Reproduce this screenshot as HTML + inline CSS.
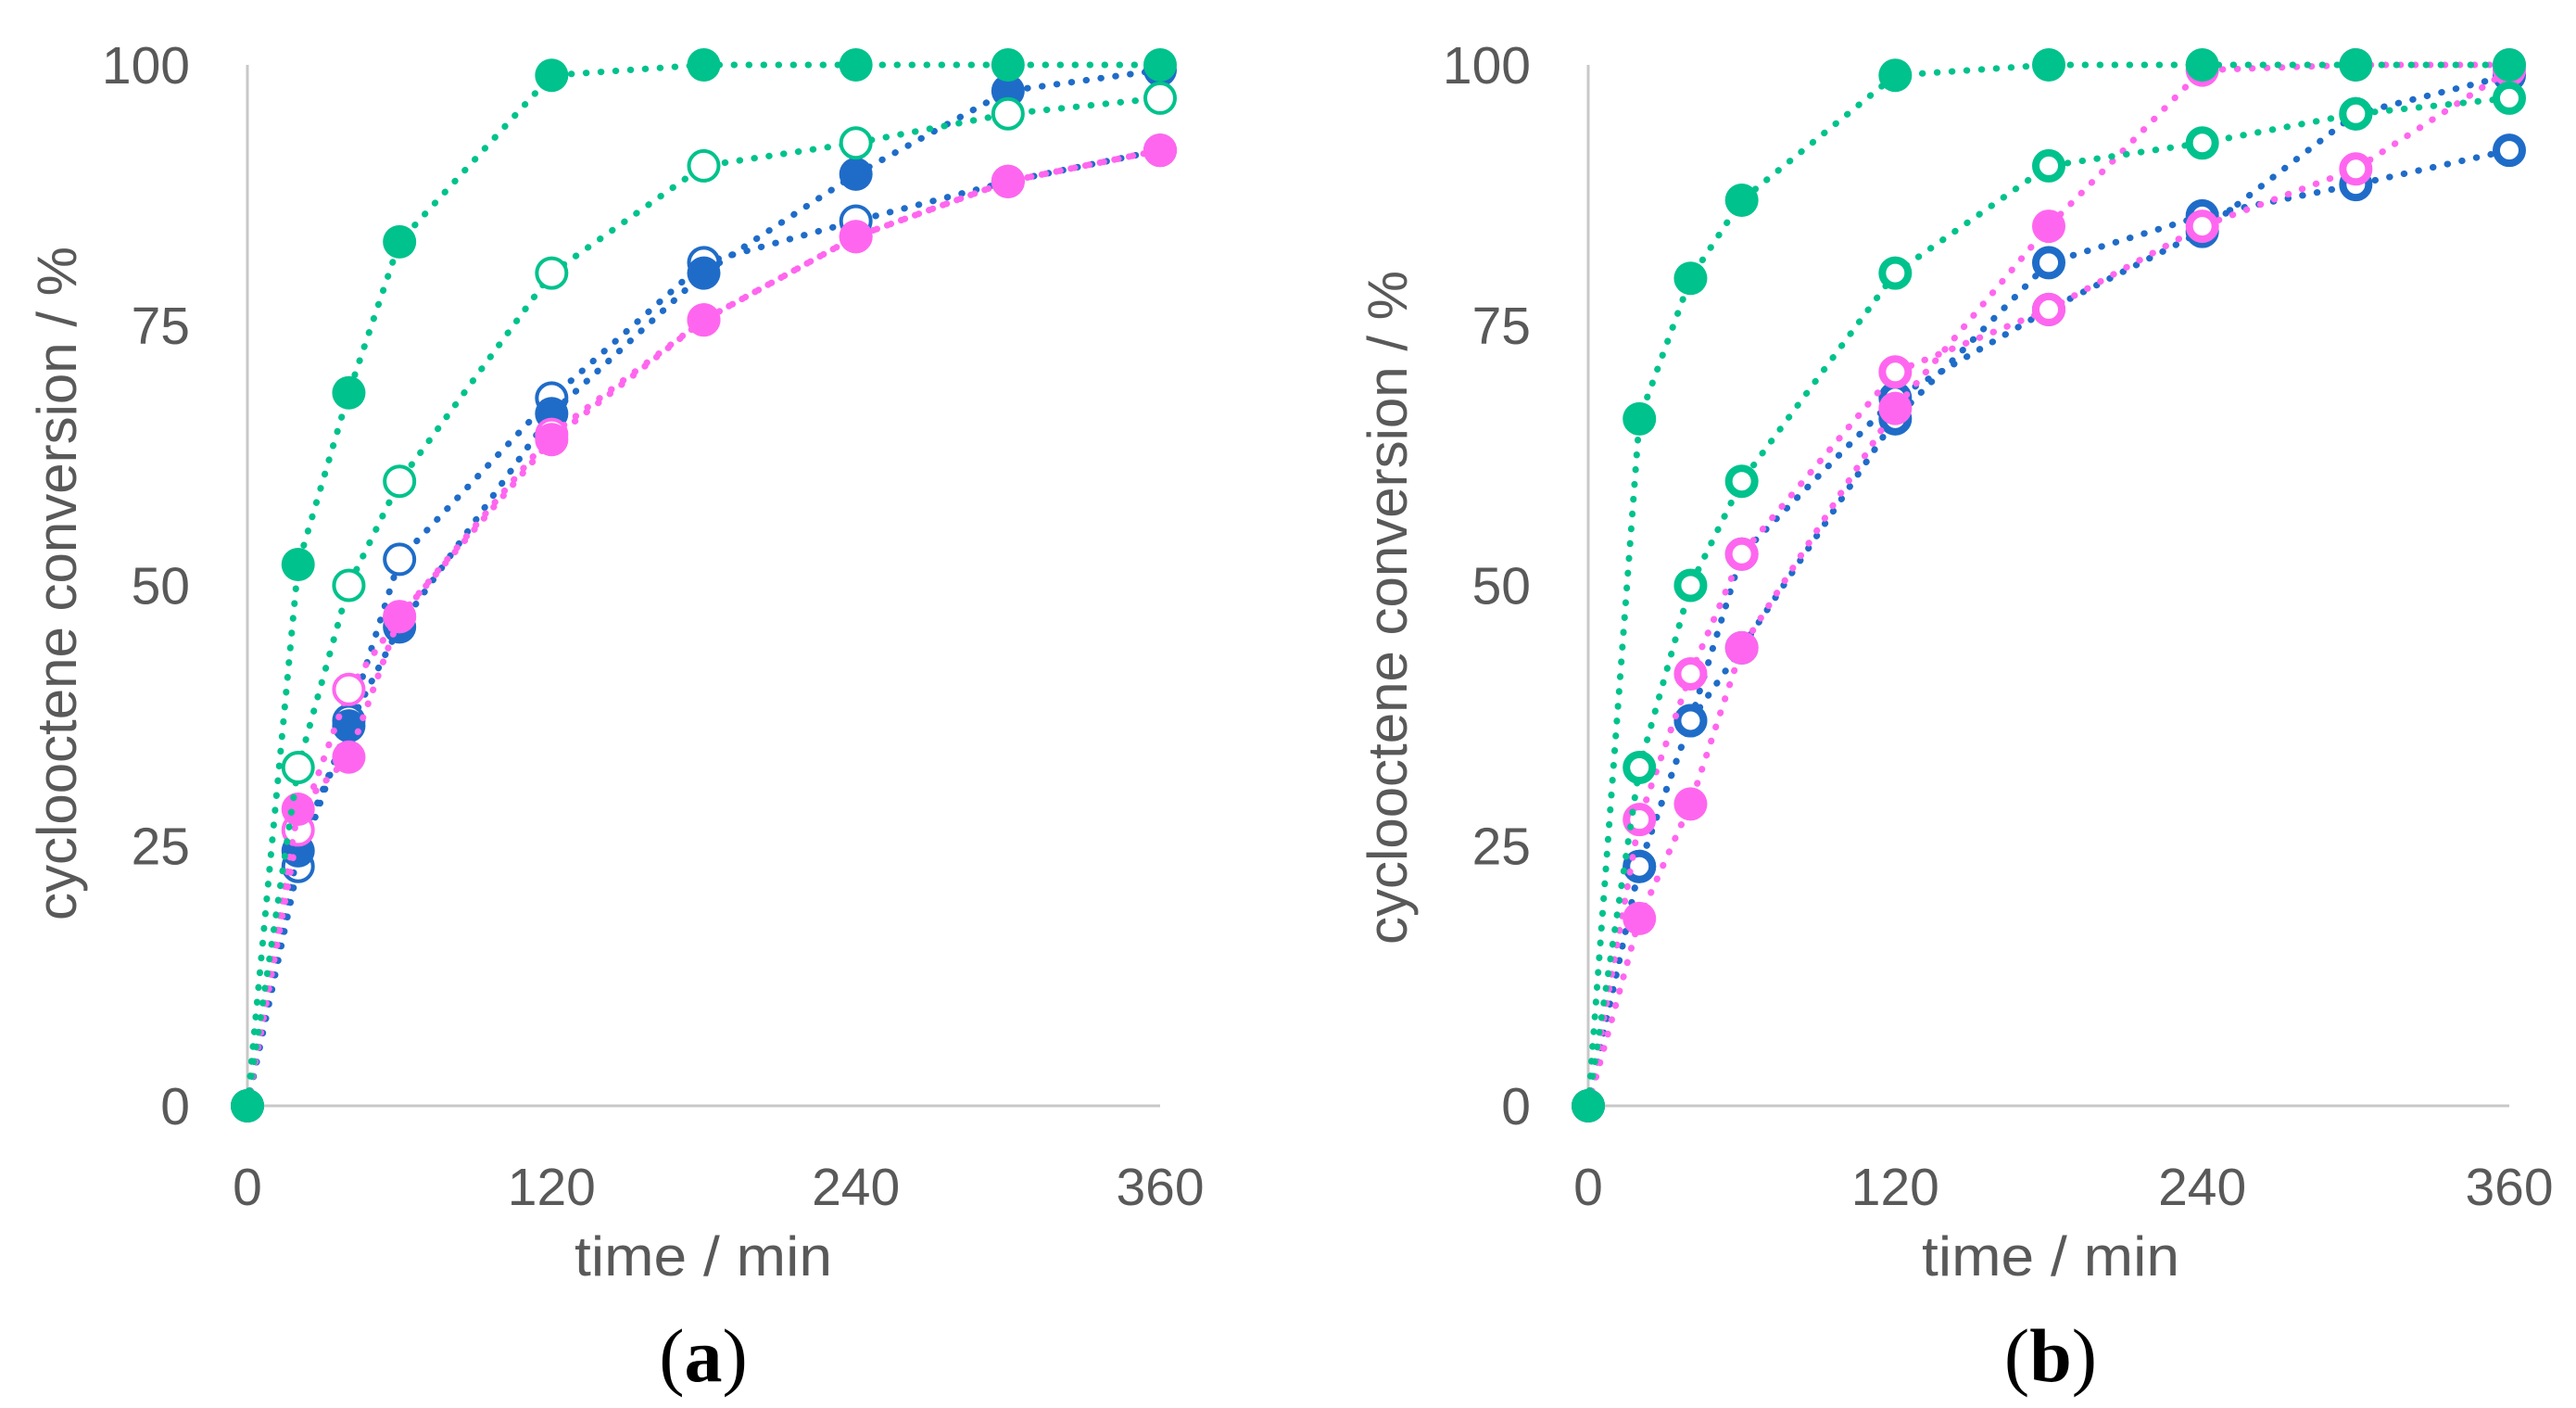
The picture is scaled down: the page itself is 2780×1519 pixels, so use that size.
<!DOCTYPE html>
<html><head><meta charset="utf-8"><style>
html,body{margin:0;padding:0;background:#fff;}
svg{display:block;}
text{font-family:"Liberation Sans","DejaVu Sans",sans-serif;fill:#595959;}
</style></head><body>
<svg id="chart" width="2780" height="1519" viewBox="0 0 2780 1519" xmlns="http://www.w3.org/2000/svg"></svg>
<script>
const times = [0, 20, 40, 60, 120, 180, 240, 300, 360];
const yTicks = [0, 25, 50, 75, 100];
const xTicks = [0, 120, 240, 360];
// panel a
const aGreenFilled = [0, 52, 68.5, 83, 99, 100, 100, 100, 100];
const aGreenOpen   = [0, 32.5, 50, 60, 80, 90.3, 92.5, 95.3, 96.8];
const aBlueFilled  = [0, 24.5, 36.5, 46, 66.5, 80, 89.5, 97.5, 99.5];
const aBlueOpen    = [0, 23, 37, 52.5, 68, 81, 85, 88.8, 91.8];
const aPinkOpen    = [0, 26.5, 40, 47, 64.5, 75.5, 83.5, 88.8, 91.8];
const aPinkFilled  = [0, 28.5, 33.5, 47, 64, 75.5, 83.5, 88.8, 91.8];
// panel b
const bBlueOpen2   = [0, 23, 37, 53, 68, 76.5, 84, 95.3, 99];
const bBlueOpen    = [0, 23, 37, 44, 66, 81, 85.5, 88.5, 91.8];
const bPinkOpen    = [0, 27.5, 41.5, 53, 70.5, 76.5, 84.5, 90, 99.5];
const bPinkFilled  = [0, 18, 29, 44, 67, 84.5, 99.5, 100, 100];
const bGreenOpen   = [0, 32.5, 50, 60, 80, 90.3, 92.5, 95.3, 96.8];
const bGreenFilled = [0, 66, 79.5, 87, 99, 100, 100, 100, 100];

const GREEN = '#00c28c', BLUE = '#1f6cc8', PINK = '#ff66ef';
const NS = 'http://www.w3.org/2000/svg';
const svg = document.getElementById('chart');
function mk(tag, attrs, parent) {
  const e = document.createElementNS(NS, tag);
  for (const k in attrs) e.setAttribute(k, attrs[k]);
  (parent || svg).appendChild(e);
  return e;
}
function panel(id, x0, x1, labelX, titleX, yTitleX, yTitleY, letter, series, thick) {
  const y0 = 1193, y1 = 70;
  const sx = t => x0 + (x1 - x0) * t / 360;
  const sy = v => y0 - (y0 - y1) * v / 100;
  const g = mk('g', {});
  
  
  const ya = mk('line', {x1: x0, y1: y1, x2: x0, y2: y0, stroke: '#c8c8c8', 'stroke-width': 3}, g);
  
  
  const xa = mk('line', {x1: x0, y1: y0, x2: x1, y2: y0, stroke: '#c8c8c8', 'stroke-width': 3}, g);
  
  
  yTicks.forEach(v => {
    const t = mk('text', {x: labelX, y: sy(v) + 20, 'font-size': 57, 'text-anchor': 'end'}, g);
    t.textContent = v;
    
    
  });
  xTicks.forEach(v => {
    const t = mk('text', {x: sx(v), y: 1300, 'font-size': 57, 'text-anchor': 'middle'}, g);
    t.textContent = v;
    
    
  });
  const xt = mk('text', {x: titleX - 139, y: 1376, 'font-size': 60, textLength: 278, lengthAdjust: 'spacingAndGlyphs'}, g);
  xt.textContent = 'time / min';
  
  
  const yt = mk('text', {x: -363, y: 0, 'font-size': 60, textLength: 727, lengthAdjust: 'spacingAndGlyphs', transform: `translate(${yTitleX},${yTitleY}) rotate(-90)`}, g);
  yt.textContent = 'cyclooctene conversion / %';
  
  
  const pl = mk('text', {x: titleX, y: 1490, 'font-size': 82, 'text-anchor': 'middle', style: 'font-family:"Liberation Serif",serif;fill:#000'}, g);
  pl.innerHTML = '(<tspan font-weight="bold">' + letter + '</tspan>)';
  
  
  series.forEach(s => {
    const sg = mk('g', {}, g);
    
    
    const pts = times.map((t, i) => sx(t) + ',' + sy(s.vals[i])).join(' ');
    const line = mk('polyline', {points: pts, fill: 'none', stroke: s.color, 'stroke-width': 7, 'stroke-dasharray': '0.5 15.5', 'stroke-linecap': 'round'}, sg);
    
    
    times.forEach((t, i) => {
      let c;
      if (s.filled || i === 0) {
        c = mk('circle', {cx: sx(t), cy: sy(s.vals[i]), r: 18, fill: s.color}, sg);
      } else {
        const sw = thick ? 8 : 4;
        c = mk('circle', {cx: sx(t), cy: sy(s.vals[i]), r: 18 - sw / 2, fill: '#fff', stroke: s.color, 'stroke-width': sw}, sg);
      }
      
      
    });
  });
}
panel('a', 267, 1252, 205, 759, 82, 630, 'a', [
  {name: 'blue-open', vals: aBlueOpen, color: BLUE, filled: false},
  {name: 'blue-filled', vals: aBlueFilled, color: BLUE, filled: true},
  {name: 'pink-open', vals: aPinkOpen, color: PINK, filled: false},
  {name: 'pink-filled', vals: aPinkFilled, color: PINK, filled: true},
  {name: 'green-open', vals: aGreenOpen, color: GREEN, filled: false},
  {name: 'green-filled', vals: aGreenFilled, color: GREEN, filled: true}
], false);
panel('b', 1714, 2708, 1652, 2213, 1518, 656, 'b', [
  {name: 'blue-open-2', vals: bBlueOpen2, color: BLUE, filled: false},
  {name: 'blue-open', vals: bBlueOpen, color: BLUE, filled: false},
  {name: 'pink-filled', vals: bPinkFilled, color: PINK, filled: true},
  {name: 'pink-open', vals: bPinkOpen, color: PINK, filled: false},
  {name: 'green-open', vals: bGreenOpen, color: GREEN, filled: false},
  {name: 'green-filled', vals: bGreenFilled, color: GREEN, filled: true}
], true);
</script>
</body></html>
